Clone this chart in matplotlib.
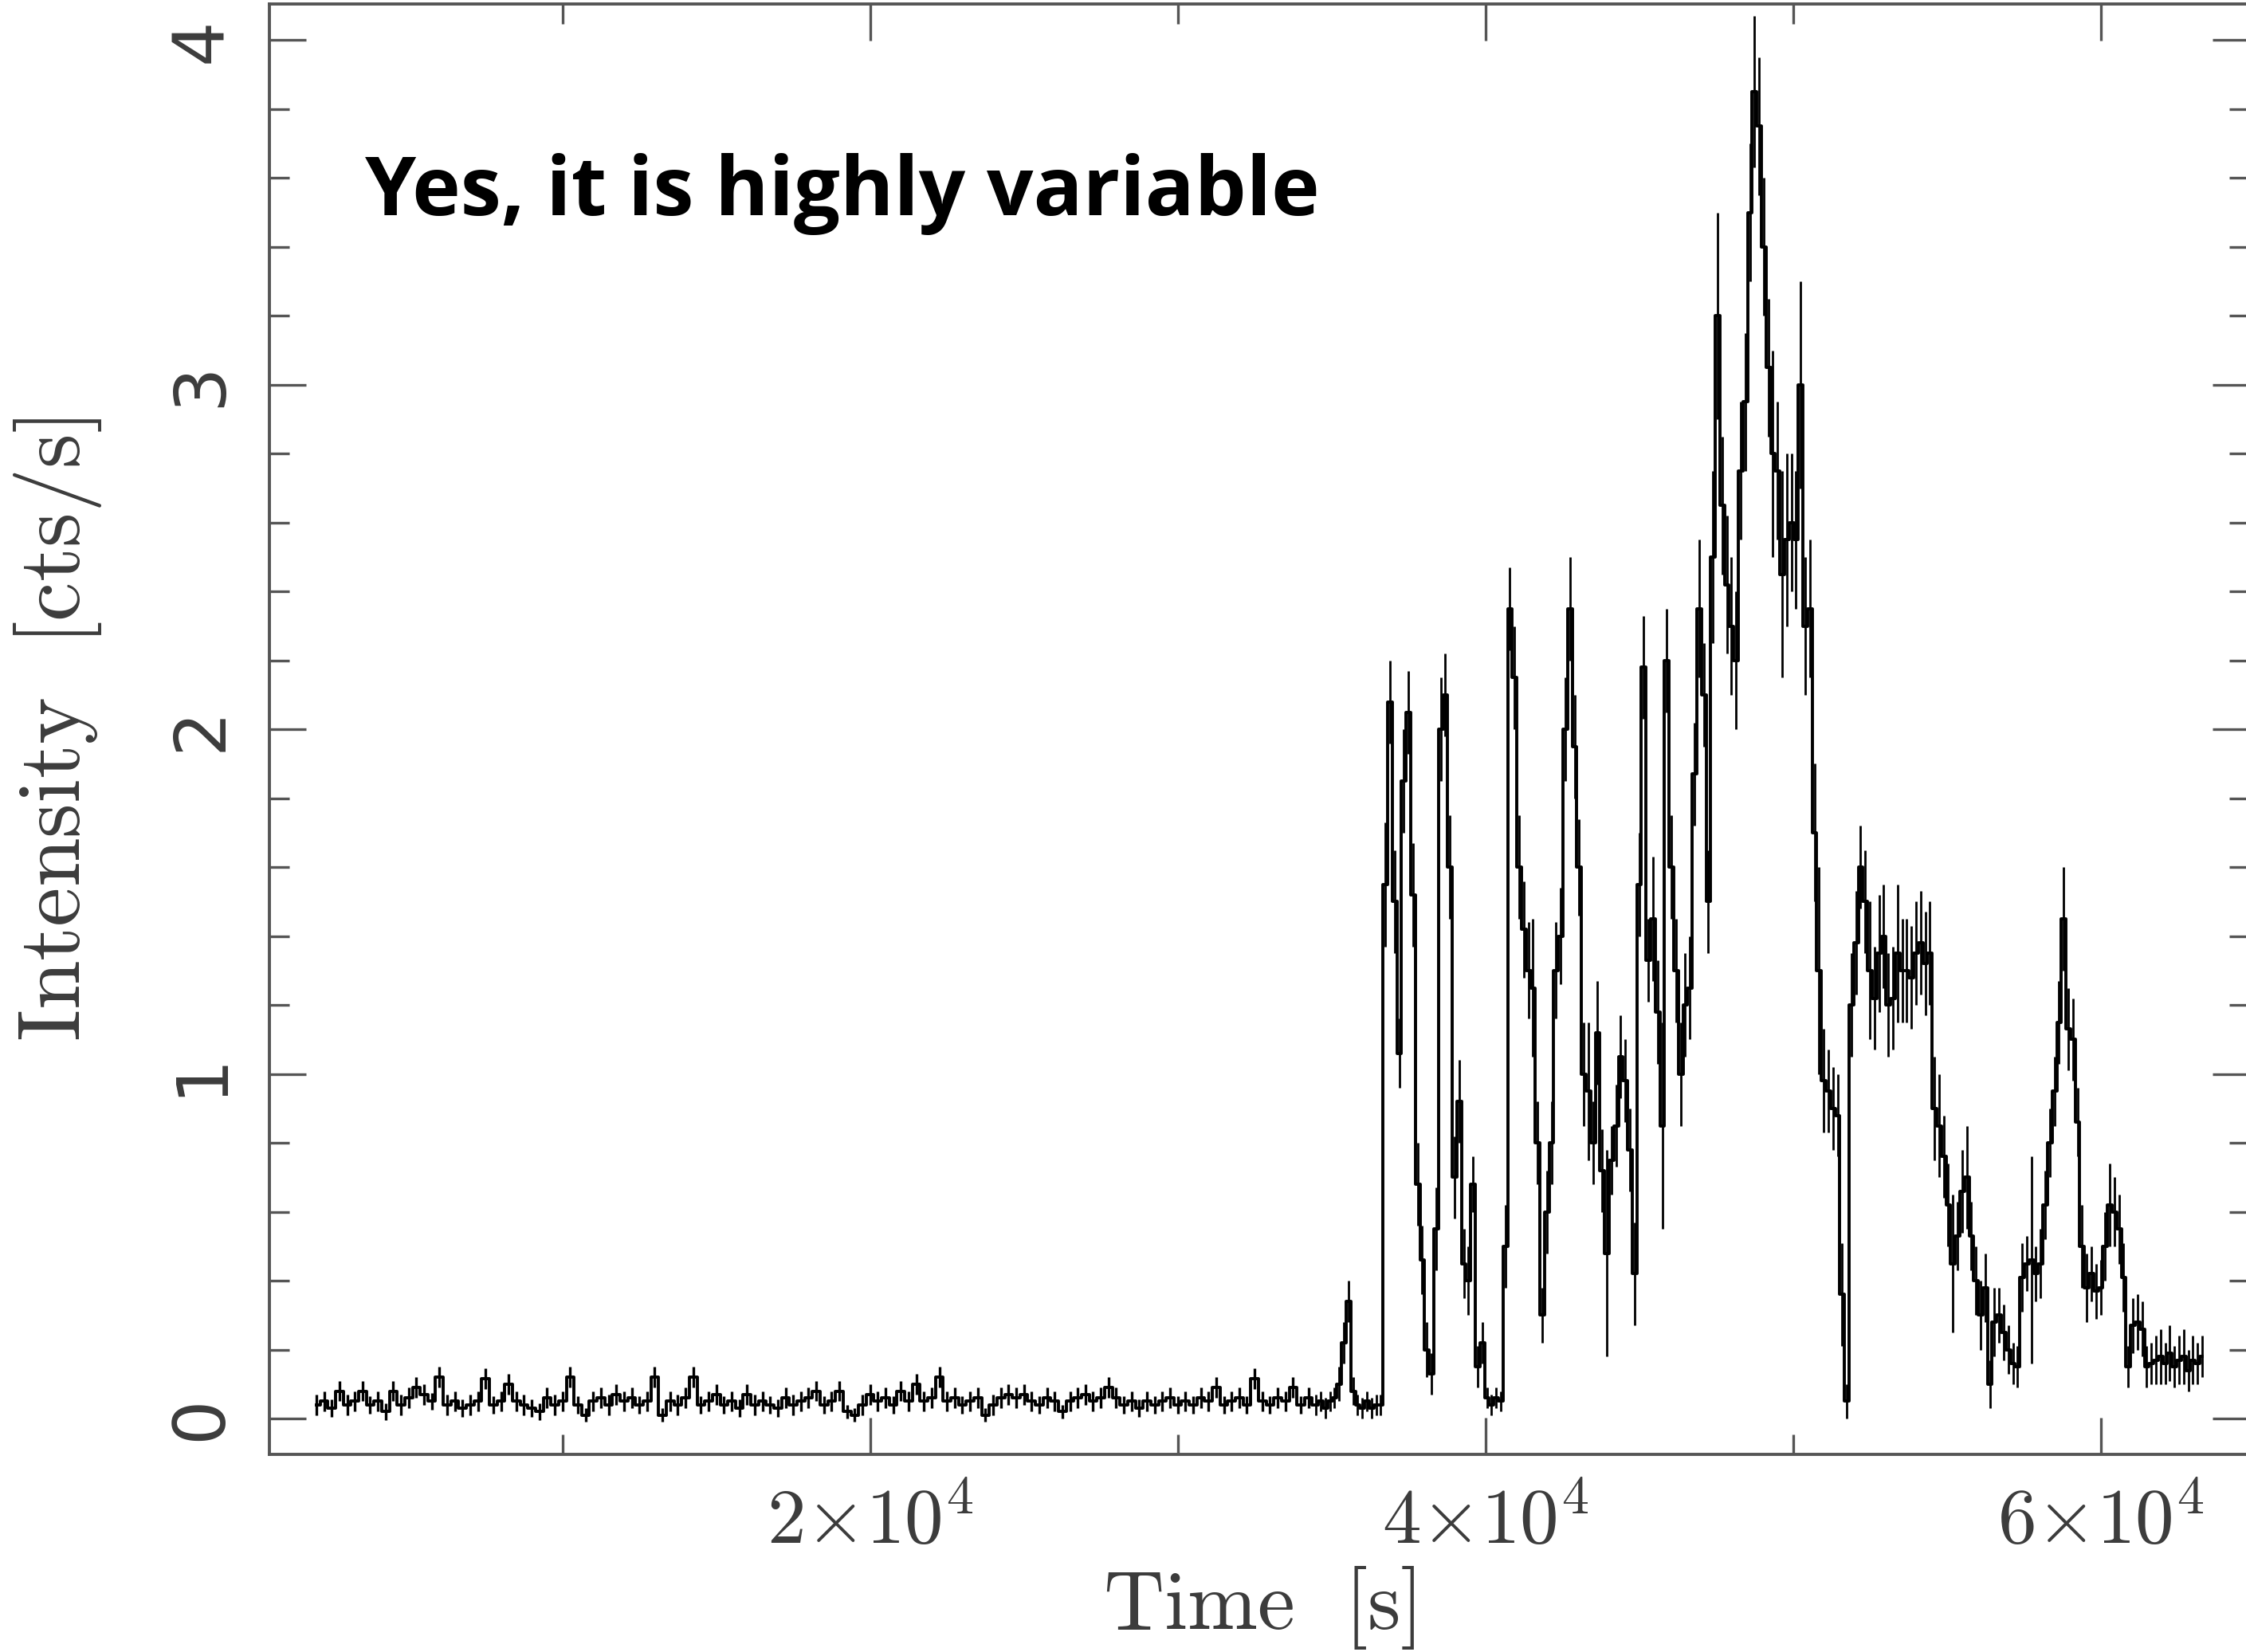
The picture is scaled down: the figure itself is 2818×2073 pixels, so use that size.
import numpy as np
import matplotlib.pyplot as plt
from matplotlib.ticker import FixedLocator, FixedFormatter, MultipleLocator

plt.rcParams['mathtext.fontset'] = 'cm'

# quiet part of the light curve: 250 s bins starting at 2000 s
quiet_t0 = 2000
quiet_dt = 250
quiet_rate = [
    0.04, 0.05, 0.03, 0.08, 0.04, 0.05, 0.08, 0.04, 0.05, 0.02,
    0.08, 0.04, 0.06, 0.09, 0.07, 0.05, 0.12, 0.04, 0.05, 0.03,
    0.04, 0.05, 0.115, 0.04, 0.05, 0.10, 0.05, 0.04, 0.03, 0.02,
    0.06, 0.04, 0.05, 0.12, 0.04, 0.01, 0.05, 0.06, 0.04, 0.07,
    0.05, 0.06, 0.04, 0.05, 0.12, 0.01, 0.05, 0.04, 0.06, 0.12,
    0.04, 0.05, 0.07, 0.04, 0.05, 0.03, 0.07, 0.04, 0.05, 0.04,
    0.03, 0.06, 0.04, 0.05, 0.06, 0.08, 0.04, 0.05, 0.08, 0.02,
    0.01, 0.04, 0.07, 0.05, 0.06, 0.04, 0.08, 0.05, 0.10, 0.05,
    0.06, 0.12, 0.05, 0.06, 0.04, 0.05, 0.06, 0.01, 0.04, 0.06,
    0.07, 0.06, 0.07, 0.05, 0.04, 0.06, 0.05, 0.02, 0.05, 0.06,
    0.07, 0.05, 0.06, 0.09, 0.06, 0.04, 0.05, 0.03, 0.05, 0.04,
    0.05, 0.06, 0.04, 0.05, 0.04, 0.06, 0.05, 0.09, 0.04, 0.05,
    0.06, 0.04, 0.115, 0.05, 0.04, 0.06, 0.05, 0.09, 0.04, 0.06,
]
quiet_err = [
    0.03, 0.03, 0.025, 0.03, 0.03, 0.03, 0.03, 0.025, 0.03, 0.025,
    0.03, 0.03, 0.03, 0.03, 0.03, 0.025, 0.03, 0.03, 0.03, 0.025,
    0.03, 0.03, 0.03, 0.025, 0.03, 0.03, 0.03, 0.03, 0.025, 0.025,
    0.03, 0.03, 0.03, 0.03, 0.025, 0.02, 0.03, 0.03, 0.03, 0.03,
    0.03, 0.03, 0.025, 0.03, 0.03, 0.02, 0.03, 0.03, 0.03, 0.03,
    0.025, 0.03, 0.03, 0.025, 0.03, 0.025, 0.03, 0.03, 0.03, 0.025,
    0.025, 0.03, 0.03, 0.03, 0.03, 0.03, 0.025, 0.03, 0.03, 0.02,
    0.02, 0.03, 0.03, 0.03, 0.03, 0.025, 0.03, 0.03, 0.03, 0.03,
    0.03, 0.03, 0.03, 0.03, 0.025, 0.03, 0.03, 0.02, 0.03, 0.03,
    0.03, 0.03, 0.03, 0.03, 0.025, 0.03, 0.03, 0.02, 0.03, 0.03,
    0.03, 0.03, 0.03, 0.03, 0.03, 0.025, 0.03, 0.025, 0.03, 0.025,
    0.03, 0.03, 0.025, 0.03, 0.025, 0.03, 0.03, 0.03, 0.025, 0.03,
    0.03, 0.025, 0.03, 0.03, 0.025, 0.03, 0.03, 0.03, 0.025, 0.03,
]

# active part: 150 s bins starting at 34500 s
flare_t0 = 34500
flare_dt = 150
flare_rate = [
    0.04, 0.05, 0.03, 0.05, 0.06, 0.10, 0.22, 0.34, 0.08, 0.04,
    0.03, 0.05, 0.03, 0.04, 0.04, 1.55, 2.08, 1.50, 1.06, 1.85,
    2.05, 1.52, 0.68, 0.46, 0.20, 0.13, 0.55, 2.00, 2.10, 1.60,
    0.70, 0.92, 0.45, 0.40, 0.68, 0.15, 0.22, 0.06, 0.04, 0.06,
    0.05, 0.50, 2.35, 2.15, 1.60, 1.42, 1.30, 1.25, 0.80, 0.30,
    0.60, 0.80, 1.30, 1.40, 2.00, 2.35, 1.95, 1.60, 1.00, 0.95,
    0.80, 1.12, 0.72, 0.48, 0.75, 0.85, 1.05, 0.98, 0.78, 0.42,
    1.55, 2.18, 1.33, 1.45, 1.18, 0.85, 2.20, 1.60, 1.30, 1.00,
    1.20, 1.25, 1.87, 2.35, 2.10, 1.50, 2.50, 3.20, 2.65, 2.42,
    2.30, 2.20, 2.75, 2.95, 3.50, 3.85, 3.75, 3.40, 3.05, 2.80,
    2.75, 2.45, 2.55, 2.60, 2.55, 3.00, 2.30, 2.35, 1.70, 1.30,
    0.98, 0.95, 0.90, 0.88, 0.36, 0.05, 1.20, 1.38, 1.60, 1.50,
    1.30, 1.22, 1.35, 1.40, 1.20, 1.22, 1.35, 1.30, 1.30, 1.28,
    1.35, 1.38, 1.32, 1.35, 0.90, 0.85, 0.76, 0.62, 0.45, 0.53,
    0.66, 0.70, 0.53, 0.40, 0.30, 0.38, 0.10, 0.28, 0.30, 0.25,
    0.20, 0.16, 0.15, 0.41, 0.45, 0.46, 0.42, 0.45, 0.62, 0.80,
    0.95, 1.15, 1.45, 1.13, 1.10, 0.86, 0.50, 0.38, 0.42, 0.37,
    0.38, 0.50, 0.62, 0.60, 0.55, 0.41, 0.15, 0.27, 0.28, 0.26,
    0.15, 0.16, 0.17, 0.18, 0.16, 0.19, 0.15, 0.17, 0.18, 0.14,
    0.17, 0.16, 0.18,
]
flare_err = [
    0.03, 0.03, 0.03, 0.03, 0.03, 0.05, 0.06, 0.06, 0.04, 0.03,
    0.03, 0.03, 0.03, 0.03, 0.03, 0.18, 0.12, 0.15, 0.10, 0.15,
    0.12, 0.15, 0.12, 0.10, 0.08, 0.06, 0.12, 0.15, 0.12, 0.15,
    0.12, 0.12, 0.10, 0.10, 0.08, 0.06, 0.06, 0.03, 0.03, 0.03,
    0.03, 0.12, 0.12, 0.15, 0.15, 0.14, 0.14, 0.20, 0.12, 0.08,
    0.12, 0.12, 0.14, 0.14, 0.15, 0.15, 0.15, 0.14, 0.15, 0.20,
    0.12, 0.15, 0.12, 0.30, 0.10, 0.12, 0.12, 0.12, 0.12, 0.15,
    0.15, 0.15, 0.12, 0.18, 0.15, 0.30, 0.15, 0.15, 0.15, 0.15,
    0.15, 0.15, 0.15, 0.20, 0.15, 0.15, 0.25, 0.30, 0.20, 0.20,
    0.20, 0.20, 0.20, 0.20, 0.20, 0.22, 0.20, 0.20, 0.20, 0.30,
    0.20, 0.30, 0.25, 0.20, 0.20, 0.30, 0.20, 0.20, 0.20, 0.30,
    0.15, 0.12, 0.12, 0.12, 0.15, 0.05, 0.15, 0.15, 0.12, 0.15,
    0.20, 0.15, 0.17, 0.15, 0.15, 0.15, 0.20, 0.15, 0.15, 0.15,
    0.15, 0.15, 0.15, 0.15, 0.15, 0.15, 0.12, 0.12, 0.20, 0.10,
    0.12, 0.15, 0.10, 0.10, 0.10, 0.10, 0.07, 0.10, 0.08, 0.08,
    0.07, 0.06, 0.06, 0.10, 0.08, 0.30, 0.08, 0.10, 0.10, 0.10,
    0.10, 0.12, 0.15, 0.12, 0.12, 0.10, 0.12, 0.10, 0.08, 0.08,
    0.08, 0.10, 0.12, 0.10, 0.10, 0.10, 0.06, 0.08, 0.08, 0.08,
    0.06, 0.06, 0.07, 0.08, 0.06, 0.08, 0.06, 0.07, 0.08, 0.06,
    0.07, 0.06, 0.06,
]

x_major = [2e4, 4e4, 6e4]
x_minor = [1e4, 3e4, 5e4]
x_labels = [r'$2{\times}10^4$', r'$4{\times}10^4$', r'$6{\times}10^4$']
y_major = [0, 1, 2, 3, 4]
y_labels = ['0', '1', '2', '3', '4']

quiet_time = quiet_t0 + quiet_dt * np.arange(len(quiet_rate))
flare_time = flare_t0 + flare_dt * np.arange(len(flare_rate))
time = np.concatenate([quiet_time, flare_time])
rate = np.concatenate([quiet_rate, flare_rate])

grey = '#555555'
text_grey = '#3c3c3c'

fig = plt.figure(figsize=(28.18, 20.73), dpi=100)
ax = fig.add_axes([0.1199, 0.1196, 0.8815, 0.878])

ax.plot(time, rate, drawstyle='steps-mid', color='black', lw=2.8)
ax.errorbar(quiet_time, quiet_rate, yerr=quiet_err, fmt='none',
            ecolor='black', elinewidth=2.4, capsize=0)
ax.errorbar(flare_time, flare_rate, yerr=flare_err, fmt='none',
            ecolor='black', elinewidth=2.0, capsize=0)

ax.set_xlim(470, 64830)
ax.set_ylim(-0.104, 4.105)

ax.xaxis.set_major_locator(FixedLocator(x_major))
ax.xaxis.set_major_formatter(FixedFormatter(x_labels))
ax.xaxis.set_minor_locator(FixedLocator(x_minor))
ax.yaxis.set_major_locator(FixedLocator(y_major))
ax.yaxis.set_major_formatter(FixedFormatter(y_labels))
ax.yaxis.set_minor_locator(MultipleLocator(0.2))

for s in ax.spines.values():
    s.set_color(grey)
    s.set_linewidth(2.8)

ax.tick_params(which='both', direction='in', top=True, right=True,
               color=grey, width=2.4, labelcolor=text_grey, labelsize=64)
ax.tick_params(which='major', length=33)
ax.tick_params(which='minor', length=18)
ax.tick_params(axis='x', which='major', pad=28, labelsize=70)
ax.tick_params(axis='y', which='major', pad=30, labelrotation=90)
for lab in ax.get_yticklabels():
    lab.set_va('center')

ax.set_xlabel(r'$\mathrm{Time}\ \ [\mathrm{s}]$', fontsize=76, color=text_grey)
ax.xaxis.set_label_coords(0.5, -0.106)
ax.xaxis.label.set_va('center')
ax.set_ylabel(r'$\mathrm{Intensity}\ \ [\mathrm{cts/s}]$', fontsize=80, color=text_grey)
ax.yaxis.set_label_coords(-0.107, 0.5)
ax.yaxis.label.set_va('center')

fig.text(0.1625, 0.8698, 'Yes, it is highly variable', fontsize=74,
         fontweight='bold', family='Open Sans', color='black',
         ha='left', va='baseline')

fig.savefig('out.png', dpi=100)
